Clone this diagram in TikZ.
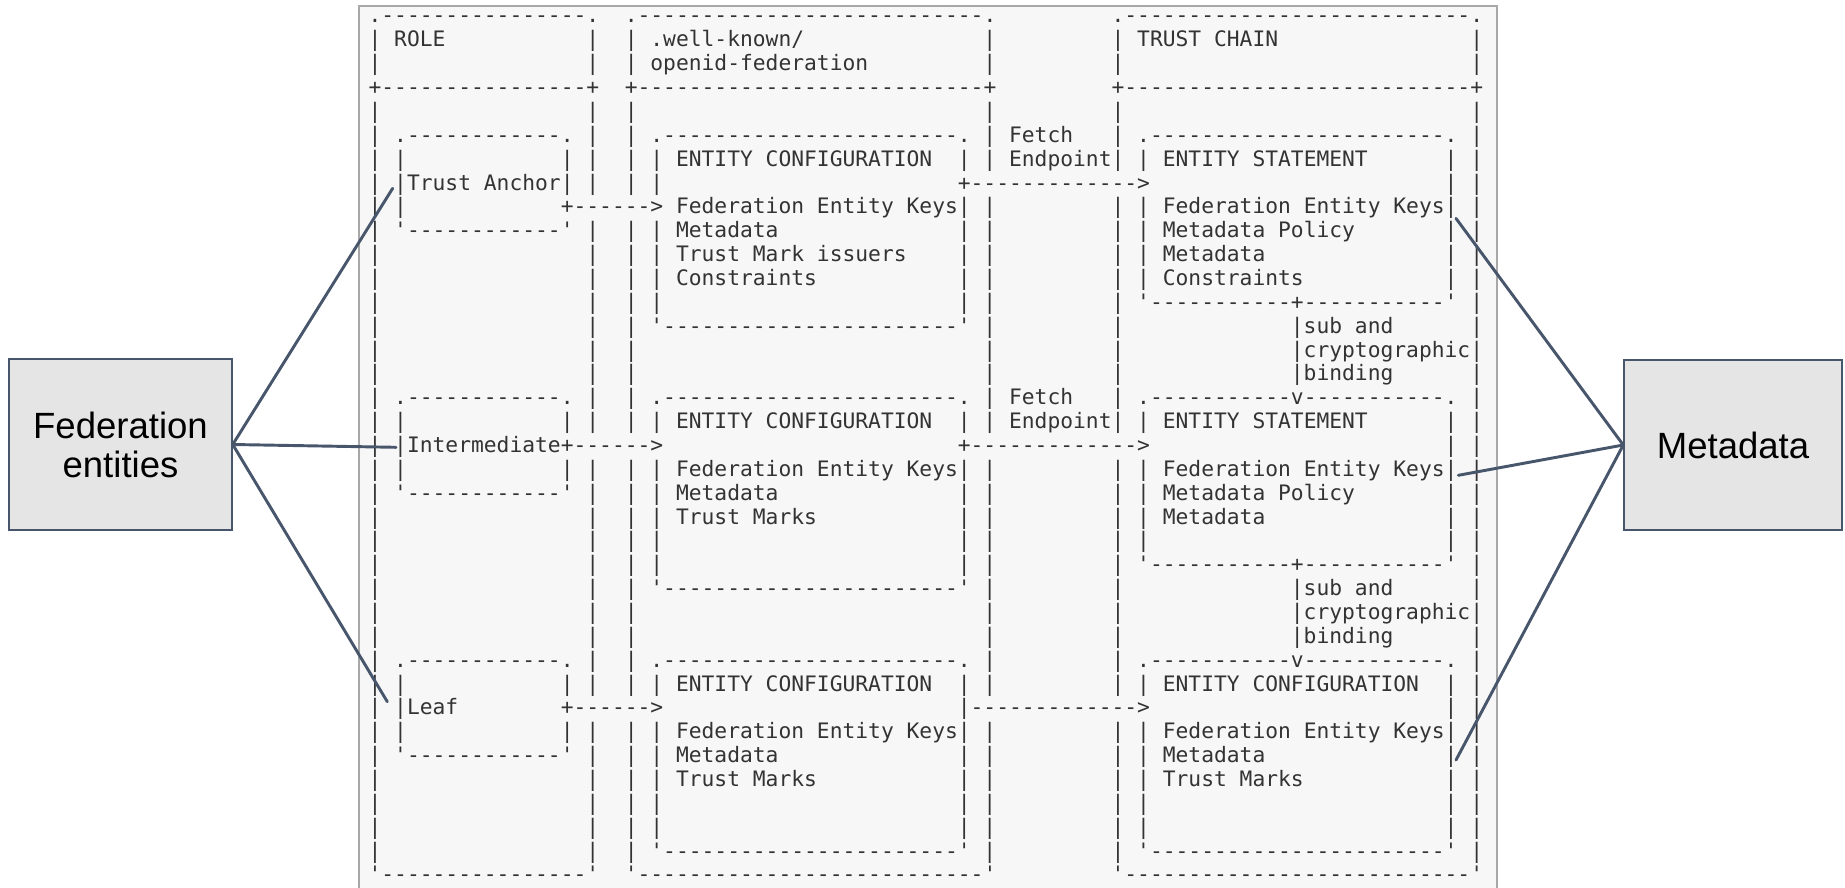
\documentclass[tikz,border=0pt]{standalone}
\usepackage{fontspec}
\setmainfont{Liberation Sans}
\setmonofont{DejaVu Sans Mono}
\definecolor{asciicol}{HTML}{333333}
\definecolor{framebg}{HTML}{F7F7F7}
\definecolor{framecol}{HTML}{A8A8A8}
\definecolor{boxfill}{HTML}{E5E5E5}
\definecolor{slate}{HTML}{48566C}
\ExplSyntaxOn
\cs_new:Npn \hd #1 { \prg_replicate:nn {#1} {-} }
\ExplSyntaxOff
\newcounter{segc}
\newcommand\asc[3]{\stepcounter{segc}\node[ascii] (seg\arabic{segc}) at ({368.6+(#1)*12.81},{23+(#2)*23.86}) {#3};}
\newcommand\ascbox[3]{\asc{#1}{#2}{|}\asc{#1+2}{#2}{#3}\asc{#1+24}{#2}{|}}
\newcommand\ascside[3]{\asc{#1}{#2}{|}\asc{#3}{#2}{|}}
\tikzset{
  ascii/.style={inner sep=0pt, outer sep=0pt, anchor=base west, text=asciicol,
    font=\ttfamily\fontsize{15.96pt}{18pt}\selectfont},
  gbox/.style={draw=slate, fill=boxfill, line width=1.1pt, inner sep=0pt, align=center,
    font=\fontsize{27.4pt}{29.3pt}\selectfont},
  conn/.style={draw=slate, line width=2.2pt, line cap=round}
}
\begin{document}
\begin{tikzpicture}[x=0.75pt, y=-0.75pt]
\useasboundingbox (0,0) rectangle (1845,888);
\clip (0,0) rectangle (1845,888);
% frame
\draw[draw=framecol, fill=framebg, line width=1.1pt] (359,6) rectangle (1497,900);

% outer boxes
\asc{0}{0}{.\hd{16}.}\asc{20}{0}{.\hd{27}.}\asc{58}{0}{.\hd{27}.}
\asc{2}{1}{ROLE}\asc{22}{1}{.well-known/}\asc{60}{1}{TRUST CHAIN}
\asc{22}{2}{openid-federation}
\asc{0}{3}{+\hd{16}+}\asc{20}{3}{+\hd{27}+}\asc{58}{3}{+\hd{27}+}
\asc{0}{36}{'\hd{16}'}\asc{20}{36}{'\hd{27}'}\asc{58}{36}{'\hd{27}'}
\foreach \r in {1,2,4,5,...,35} {\asc{0}{\r}{|}\asc{86}{\r}{|}}
\foreach \r in {1,2,4,5,6,7,9,10,...,17,19,20,...,28,30,31,...,35} {\asc{17}{\r}{|}\asc{20}{\r}{|}}
\foreach \r in {1,2,4,5,6,8,9,...,17,19,20,...,28,30,31,...,35} {\asc{48}{\r}{|}\asc{58}{\r}{|}}

% role boxes
\asc{2}{5}{.\hd{12}.}
\ascside{2}{6}{15}
\asc{2}{7}{|Trust Anchor|}
\asc{2}{8}{|}\asc{15}{8}{+\hd{6}>}
\asc{2}{9}{'\hd{12}'}

\asc{2}{16}{.\hd{12}.}
\ascside{2}{17}{15}
\asc{2}{18}{|Intermediate+\hd{6}>}
\ascside{2}{19}{15}
\asc{2}{20}{'\hd{12}'}

\asc{2}{27}{.\hd{12}.}
\ascside{2}{28}{15}
\asc{2}{29}{|Leaf}\asc{15}{29}{+\hd{6}>}
\ascside{2}{30}{15}
\asc{2}{31}{'\hd{12}'}

% well-known boxes
\asc{22}{5}{.\hd{23}.}
\ascbox{22}{6}{ENTITY CONFIGURATION}
\asc{22}{7}{|}\asc{46}{7}{+\hd{13}>}
\asc{24}{8}{Federation Entity Keys|}
\ascbox{22}{9}{Metadata}
\ascbox{22}{10}{Trust Mark issuers}
\ascbox{22}{11}{Constraints}
\ascside{22}{12}{46}
\asc{22}{13}{'\hd{23}'}

\asc{22}{16}{.\hd{23}.}
\ascbox{22}{17}{ENTITY CONFIGURATION}
\asc{46}{18}{+\hd{13}>}
\ascbox{22}{19}{Federation Entity Keys}
\ascbox{22}{20}{Metadata}
\ascbox{22}{21}{Trust Marks}
\ascside{22}{22}{46}
\ascside{22}{23}{46}
\asc{22}{24}{'\hd{23}'}

\asc{22}{27}{.\hd{23}.}
\ascbox{22}{28}{ENTITY CONFIGURATION}
\asc{46}{29}{|\hd{13}>}
\ascbox{22}{30}{Federation Entity Keys}
\ascbox{22}{31}{Metadata}
\ascbox{22}{32}{Trust Marks}
\ascside{22}{33}{46}
\ascside{22}{34}{46}
\asc{22}{35}{'\hd{23}'}

% fetch endpoint labels
\asc{50}{5}{Fetch}\asc{50}{6}{Endpoint}
\asc{50}{16}{Fetch}\asc{50}{17}{Endpoint}

% trust chain boxes
\asc{60}{5}{.\hd{23}.}
\ascbox{60}{6}{ENTITY STATEMENT}
\asc{84}{7}{|}
\ascbox{60}{8}{Federation Entity Keys}
\ascbox{60}{9}{Metadata Policy}
\ascbox{60}{10}{Metadata}
\ascbox{60}{11}{Constraints}
\asc{60}{12}{'\hd{11}+\hd{11}'}
\asc{72}{13}{|sub and}\asc{72}{14}{|cryptographic}\asc{72}{15}{|binding}

\asc{60}{16}{.\hd{11}v\hd{11}.}
\ascbox{60}{17}{ENTITY STATEMENT}
\asc{84}{18}{|}
\ascbox{60}{19}{Federation Entity Keys}
\ascbox{60}{20}{Metadata Policy}
\ascbox{60}{21}{Metadata}
\ascside{60}{22}{84}
\asc{60}{23}{'\hd{11}+\hd{11}'}
\asc{72}{24}{|sub and}\asc{72}{25}{|cryptographic}\asc{72}{26}{|binding}

\asc{60}{27}{.\hd{11}v\hd{11}.}
\ascbox{60}{28}{ENTITY CONFIGURATION}
\asc{84}{29}{|}
\ascbox{60}{30}{Federation Entity Keys}
\ascbox{60}{31}{Metadata}
\ascbox{60}{32}{Trust Marks}
\ascside{60}{33}{84}
\ascside{60}{34}{84}
\asc{60}{35}{'\hd{23}'}

% side boxes
\node[gbox, minimum width=167.25pt, minimum height=128.25pt] (fed) at (120.5,444.5) {Federation\\entities};
\node[gbox, minimum width=163.5pt, minimum height=127.5pt] (meta) at (1733,445) {Metadata};

\coordinate (taend) at (392.7,188.3);
\coordinate (imend) at (396,447.3);
\coordinate (lfend) at (387.3,701.7);
\coordinate (esone) at (1456,218.4);
\coordinate (estwo) at (1458.3,475.3);
\coordinate (ecthree) at (1456,760);

\draw[conn] (fed.east) -- (taend);
\draw[conn] (fed.east) -- (imend);
\draw[conn] (fed.east) -- (lfend);
\draw[conn] (meta.west) -- (esone);
\draw[conn] (meta.west) -- (estwo);
\draw[conn] (meta.west) -- (ecthree);
\end{tikzpicture}
\end{document}
